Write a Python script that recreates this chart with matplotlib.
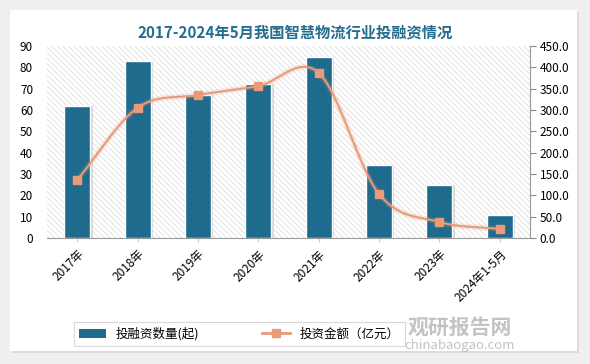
import numpy as np
import matplotlib
matplotlib.use("Agg")
import matplotlib.pyplot as plt
from matplotlib.patches import Rectangle
from matplotlib.lines import Line2D
from matplotlib.patches import Patch

plt.rcParams['font.family'] = ['Noto Sans CJK SC', 'DejaVu Sans']
plt.rcParams['hatch.linewidth'] = 0.5
plt.rcParams['hatch.color'] = '#d8d8d8'

categories = ['2017年', '2018年', '2019年', '2020年', '2021年', '2022年', '2023年', '2024年1-5月']
deal_count = [62, 83, 67, 72, 85, 34, 25, 11]
amount = [136, 305, 335, 356, 387, 103, 37.5, 21]

bar_color = '#1f6b8e'
line_color = '#e99a78'


def smooth(xs, ys, n=30):
    # catmull-rom path through the points, like the office "smoothed line"
    xs = np.asarray(xs, float)
    ys = np.asarray(ys, float)
    px = np.concatenate([[2 * xs[0] - xs[1]], xs, [2 * xs[-1] - xs[-2]]])
    py = np.concatenate([[2 * ys[0] - ys[1]], ys, [2 * ys[-1] - ys[-2]]])
    outx, outy = [], []
    t = np.linspace(0, 1, n)
    for i in range(1, len(px) - 2):
        for p, out in ((px, outx), (py, outy)):
            p0, p1, p2, p3 = p[i - 1], p[i], p[i + 1], p[i + 2]
            out.extend(0.5 * (2 * p1 + (-p0 + p2) * t + (2 * p0 - 5 * p1 + 4 * p2 - p3) * t ** 2
                              + (-p0 + 3 * p1 - 3 * p2 + p3) * t ** 3))
    return np.array(outx), np.array(outy)


fig = plt.figure(figsize=(5.9, 3.64), dpi=100, facecolor='#efefef')
# white card
fig.patches.append(Rectangle((12 / 590, 11 / 364), 567 / 590, 341 / 364, transform=fig.transFigure,
                             facecolor='#dcdcdc', edgecolor='none', zorder=-10))
fig.patches.append(Rectangle((10 / 590, 13 / 364), 567 / 590, 341 / 364, transform=fig.transFigure,
                             facecolor='white', edgecolor='none', zorder=-9))

ax = fig.add_axes([47 / 590, (364 - 238) / 364, 483 / 590, 192 / 364])
ax.set_facecolor('none')
ax.add_patch(Rectangle((0, 0), 1, 1, transform=ax.transAxes, facecolor='white',
                       hatch='\\\\\\\\\\\\', edgecolor='#d8d8d8', lw=0, zorder=0))

x = np.arange(len(categories))
# bar shadows
ax.bar(x + 0.04, deal_count, width=0.43, color='#bbbbbb', alpha=0.5, zorder=1)
ax.bar(x, deal_count, width=0.43, color=bar_color, edgecolor='white', linewidth=1.0, zorder=2)
ax.set_ylim(0, 90)
ax.set_yticks(range(0, 91, 10))
ax.set_xlim(-0.5, len(categories) - 0.5)
ax.set_xticks(x)
ax.set_xticklabels(categories, rotation=45, ha='right', rotation_mode='anchor', fontsize=8.5)
ax.tick_params(axis='y', length=0, labelsize=8.5, pad=10)
ax.tick_params(axis='x', length=3, color='#cccccc', pad=4)
for s in ['top', 'left', 'right']:
    ax.spines[s].set_visible(False)
ax.spines['bottom'].set_color('#999999')

ax2 = ax.twinx()
sx, sy = smooth(x, amount)
ax2.plot(sx, sy, color=line_color, lw=4, alpha=0.2, zorder=3)
ax2.plot(sx, sy, color=line_color, lw=1.5, zorder=4)
ax2.plot(x, amount, linestyle='none', marker='s', markersize=6, color=line_color, zorder=5)
ax2.set_ylim(0, 450)
ax2.set_yticks(range(0, 451, 50))
ax2.set_yticklabels([f'{v:.1f}' for v in range(0, 451, 50)])
ax2.tick_params(axis='y', length=4, color='#888888', labelsize=8.5, pad=3)
for s in ['top', 'left', 'bottom']:
    ax2.spines[s].set_visible(False)
ax2.spines['right'].set_color('#999999')

fig.text(0.5, (364 - 33) / 364, '2017-2024年5月我国智慧物流行业投融资情况', ha='center', va='center',
         fontsize=11, fontweight='bold', color='#236d8e')

handles = [Patch(facecolor=bar_color, edgecolor='none'),
           Line2D([0], [0], color=line_color, lw=2, marker='s', markersize=6)]
leg = fig.legend(handles, ['投融资数量(起)', '投资金额（亿元）'], loc='center',
                 bbox_to_anchor=(239 / 590, (364 - 334) / 364), ncol=2, fontsize=9,
                 frameon=True, fancybox=False, edgecolor='#d0d0d0', columnspacing=5,
                 handlelength=2.2, borderpad=0.4)
leg.get_frame().set_linewidth(0.8)

# watermark
fig.text(460 / 590, (364 - 327) / 364, '观研报告网', ha='center', va='center', fontsize=15,
         fontweight='bold', color='#b4b4b4', alpha=0.8)
fig.text(460 / 590, (364 - 345) / 364, 'chinabaogao.com', ha='center', va='center', fontsize=9.5,
         color='#b4b4b4', alpha=0.8)

fig.savefig('out.png', dpi=100, facecolor=fig.get_facecolor())
